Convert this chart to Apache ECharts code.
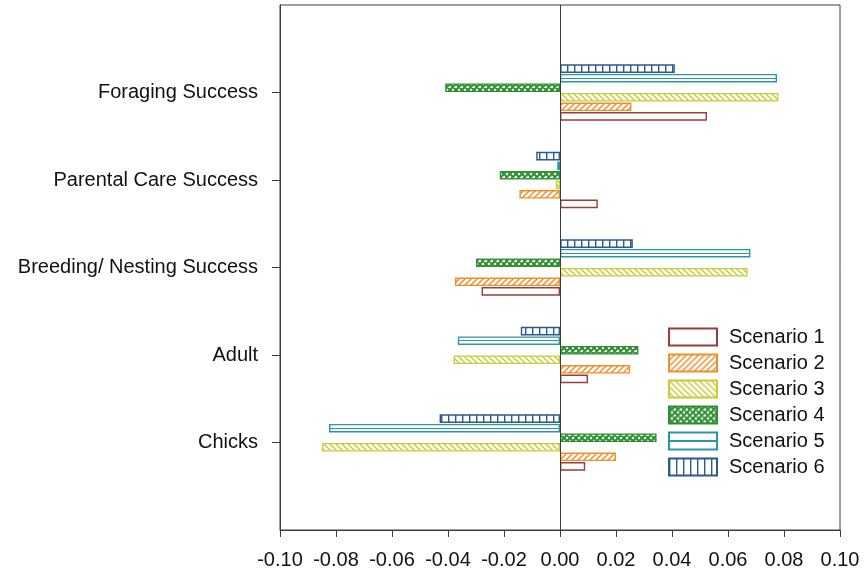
<!DOCTYPE html>
<html>
<head>
<meta charset="utf-8">
<script src="https://cdn.jsdelivr.net/npm/echarts@6/dist/echarts.min.js"></script>
<style>
  html, body { margin: 0; padding: 0; background: #ffffff; }
  #chart { width: 864px; height: 575px; }
</style>
</head>
<body>
<div id="chart"></div>
<script>
// Outcome categories, listed bottom to top along the vertical axis
const categories = ['Chicks', 'Adult', 'Breeding/ Nesting Success', 'Parental Care Success', 'Foraging Success'];

// Change per scenario, in the same category order
const scenario1 = [0.009, 0.010, -0.028, 0.0135, 0.0525];
const scenario2 = [0.020, 0.025, -0.0375, -0.0145, 0.0255];
const scenario3 = [-0.085, -0.038, 0.067, -0.0015, 0.078];
const scenario4 = [0.0345, 0.028, -0.030, -0.0215, -0.041];
const scenario5 = [-0.0825, -0.0365, 0.068, -0.001, 0.0775];
const scenario6 = [-0.043, -0.014, 0.026, -0.0085, 0.041];

const scenarioNames = ['Scenario 1', 'Scenario 2', 'Scenario 3', 'Scenario 4', 'Scenario 5', 'Scenario 6'];
const xTicks = { min: -0.10, max: 0.10, step: 0.02 };

const FONT = '"Liberation Sans", Arial, Helvetica, sans-serif';
const AXIS_COLOR = '#3c3c3c';

// Small repeating tiles used as hatch fills
function makeTile(w, h, draw) {
  const c = document.createElement('canvas');
  c.width = w; c.height = h;
  const ctx = c.getContext('2d');
  ctx.fillStyle = '#ffffff';
  ctx.fillRect(0, 0, w, h);
  draw(ctx, w, h);
  return { image: c, repeat: 'repeat' };
}
function forwardHatch(color) {
  return makeTile(6, 6, (ctx, w, h) => {
    ctx.strokeStyle = color; ctx.lineWidth = 1.5;
    ctx.beginPath();
    ctx.moveTo(-1, h + 1); ctx.lineTo(w + 1, -1);
    ctx.moveTo(-1, 1); ctx.lineTo(1, -1);
    ctx.moveTo(w - 1, h + 1); ctx.lineTo(w + 1, h - 1);
    ctx.stroke();
  });
}
function backHatch(color) {
  return makeTile(6, 6, (ctx, w, h) => {
    ctx.strokeStyle = color; ctx.lineWidth = 1.5;
    ctx.beginPath();
    ctx.moveTo(-1, -1); ctx.lineTo(w + 1, h + 1);
    ctx.moveTo(w - 1, -1); ctx.lineTo(w + 1, 1);
    ctx.moveTo(-1, h - 1); ctx.lineTo(1, h + 1);
    ctx.stroke();
  });
}
function crossHatch(color) {
  return makeTile(6, 6, (ctx, w, h) => {
    ctx.strokeStyle = color; ctx.lineWidth = 2;
    ctx.beginPath();
    ctx.moveTo(-1, h + 1); ctx.lineTo(w + 1, -1);
    ctx.moveTo(-1, 1); ctx.lineTo(1, -1);
    ctx.moveTo(w - 1, h + 1); ctx.lineTo(w + 1, h - 1);
    ctx.moveTo(-1, -1); ctx.lineTo(w + 1, h + 1);
    ctx.moveTo(w - 1, -1); ctx.lineTo(w + 1, 1);
    ctx.moveTo(-1, h - 1); ctx.lineTo(1, h + 1);
    ctx.stroke();
  });
}
function verticalLines(color) {
  return makeTile(7, 4, (ctx, w, h) => {
    ctx.fillStyle = color;
    ctx.fillRect(0, 0, 1.4, h);
  });
}
// white bar with a single rule through its middle
function middleRule(color) {
  return {
    type: 'linear', x: 0, y: 0, x2: 0, y2: 1,
    colorStops: [
      { offset: 0, color: '#ffffff' }, { offset: 0.43, color: '#ffffff' },
      { offset: 0.43, color: color }, { offset: 0.57, color: color },
      { offset: 0.57, color: '#ffffff' }, { offset: 1, color: '#ffffff' }
    ]
  };
}

const colors = ['#9a3d3d', '#ef8f2c', '#c9cc3a', '#2f8f32', '#2b97a2', '#2d5a8e'];
const fills = [
  '#ffffff',
  forwardHatch(colors[1]),
  backHatch(colors[2]),
  crossHatch(colors[3]),
  middleRule(colors[4]),
  verticalLines(colors[5])
];
const values = [scenario1, scenario2, scenario3, scenario4, scenario5, scenario6];

// padded category axis: blank slots at both ends give the half-band margins
const yCats = [''].concat(categories, ['']);

const series = values.map((vals, i) => ({
  name: scenarioNames[i],
  type: 'bar',
  data: [null].concat(vals, [null]),
  barWidth: 8.6,
  barGap: '11%',
  itemStyle: { color: fills[i], borderColor: colors[i], borderWidth: 1.4 },
  emphasis: { disabled: true },
  z: 2
}));
// vertical reference line at zero
series[0].markLine = {
  silent: true,
  symbol: 'none',
  label: { show: false },
  lineStyle: { color: AXIS_COLOR, width: 1, type: 'solid' },
  data: [{ xAxis: 0 }],
  z: 5
};
// draw Scenario 1 at the bottom of each group
series.reverse();

const chart = echarts.init(document.getElementById('chart'), null, { renderer: 'canvas' });
chart.setOption({
  animation: false,
  backgroundColor: '#ffffff',
  textStyle: { fontFamily: FONT },
  grid: {
    left: 280, right: 24, top: 5, bottom: 45,
    show: true, borderColor: AXIS_COLOR, borderWidth: 1, backgroundColor: 'transparent'
  },
  legend: {
    orient: 'vertical',
    left: 668, top: 327,
    padding: 0,
    itemWidth: 48, itemHeight: 17, itemGap: 6,
    icon: 'rect',
    data: scenarioNames,
    textStyle: { fontSize: 20, color: '#111111', fontFamily: FONT, padding: [0, 0, 0, 7] }
  },
  xAxis: {
    type: 'value',
    min: xTicks.min, max: xTicks.max, interval: xTicks.step,
    axisLine: { show: true, onZero: false, lineStyle: { color: AXIS_COLOR, width: 1 } },
    axisTick: { show: true, length: 7, lineStyle: { color: AXIS_COLOR, width: 1 } },
    splitLine: { show: false },
    axisLabel: {
      fontSize: 20, color: '#111111', fontFamily: FONT, margin: 20,
      formatter: v => v.toFixed(2)
    }
  },
  yAxis: {
    type: 'category',
    data: yCats,
    boundaryGap: false,
    axisLine: { show: true, onZero: false, lineStyle: { color: AXIS_COLOR, width: 1 } },
    axisTick: {
      show: true, length: 8, interval: (idx, val) => val !== '',
      lineStyle: { color: AXIS_COLOR, width: 1 }
    },
    axisLabel: {
      fontSize: 20, color: '#111111', fontFamily: FONT, margin: 22, interval: 0,
      padding: [7, 0, 0, 0]
    },
    splitLine: { show: false }
  },
  series: series
});
</script>
</body>
</html>
